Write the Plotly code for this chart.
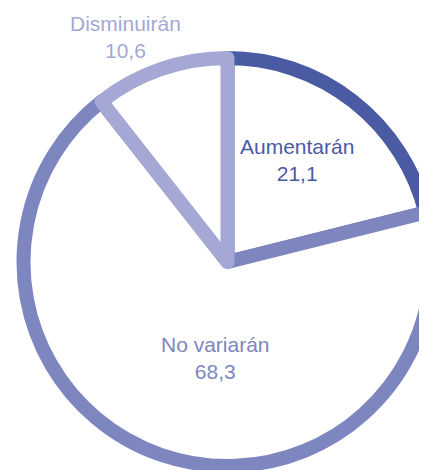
import plotly.graph_objects as go

# Data
labels = ["Aumentarán", "No variarán", "Disminuirán"]
values = [21.1, 68.3, 10.6]
colors = ["#4b5ba3", "#7e86bf", "#a5a8d4"]

# figure is a bit wider than the window so the pie can run off the right edge
W, H = 440, 470
OFF = 8  # default page margin

# label centres in window pixels
label_px = [(297, 160), (215, 358), (125, 37)]

cx, cy, r = 227.5 - OFF, 262 - OFF, 204

fig = go.Figure(go.Pie(
    labels=labels,
    values=values,
    sort=False,
    direction="clockwise",
    rotation=0,
    textinfo="none",
    hoverinfo="label+value",
    marker=dict(colors=["white"] * len(values),
                line=dict(color=colors, width=14)),
    domain=dict(x=[(cx - r) / W, (cx + r) / W],
                y=[1 - (cy + r) / H, 1 - (cy - r) / H]),
    showlegend=False,
))

for lab, val, col, (px, py) in zip(labels, values, colors, label_px):
    fig.add_annotation(
        x=(px - OFF) / W, y=1 - (py - OFF) / H,
        xref="paper", yref="paper",
        xanchor="center", yanchor="middle",
        text=f"{lab}<br>{val:.1f}".replace(".", ","),
        showarrow=False,
        font=dict(family="Liberation Sans, Arial, sans-serif", size=21, color=col),
        align="center",
    )

fig.update_layout(
    width=W,
    height=H,
    margin=dict(l=0, r=0, t=0, b=0),
    paper_bgcolor="white",
    plot_bgcolor="white",
)

fig.write_html("out.html")
